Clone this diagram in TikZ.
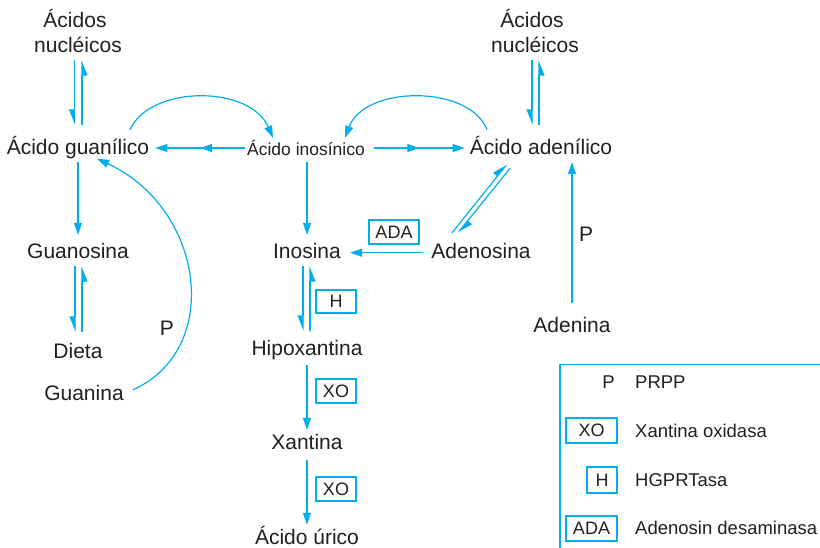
\documentclass[tikz,border=0pt]{standalone}
\usepackage{fontspec}
\setmainfont{Liberation Sans}
\usetikzlibrary{arrows.meta,decorations.markings}
\definecolor{flow}{HTML}{00AEEF}
\definecolor{ink}{HTML}{231F20}
\begin{document}
\begin{tikzpicture}[x=1pt,y=-1pt,
  lbl/.style={inner sep=0pt, anchor=base, text=ink,
    font=\fontsize{21}{25}\selectfont, text height=15pt, text depth=4.5pt},
  small/.style={lbl, font=\fontsize{17.5}{20}\selectfont, text height=12pt, text depth=3.5pt},
  legtxt/.style={lbl, font=\fontsize{18.5}{21}\selectfont, anchor=base west},
  enz/.style={draw=flow, line width=1.1pt, text=ink, font=\fontsize{18}{21}\selectfont,
    inner sep=0pt, minimum height=24pt},
  con/.style={flow, line width=1.2pt},
  arr/.style={con, -{Triangle[length=12pt,width=8pt]}},
  harpout/.style={con, -{Triangle[length=14pt,width=11pt,harpoon,swap]}},
  harpin/.style={con, -{Triangle[length=14pt,width=11pt,harpoon]}},
  twohead/.style={arr, postaction={decorate},
    decoration={markings, mark=at position 0.5 with {\arrow{Triangle[length=12pt,width=8pt]}}}}
]
\useasboundingbox (0,0) rectangle (820,547);
\fill[white] (0,0) rectangle (820,547);

% metabolites
\node[lbl] (nucLa) at (75,27) {Ácidos};
\node[lbl] (nucL) at (78,52) {nucléicos};
\node[lbl] (gua) at (78,154) {Ácido guanílico};
\node[small] (ino) at (306,155) {Ácido inosínico};
\node[lbl] (adn) at (541,154) {Ácido adenílico};
\node[lbl] (nucRa) at (532,27) {Ácidos};
\node[lbl] (nucR) at (535,52) {nucléicos};
\node[lbl] (gsn) at (78,258) {Guanosina};
\node[lbl] (dieta) at (78,358) {Dieta};
\node[lbl] (gnn) at (84,400) {Guanina};
\node[lbl] (pG) at (167,335) {P};
\node[lbl] (inos) at (307,258) {Inosina};
\node[lbl] (hip) at (307,355) {Hipoxantina};
\node[lbl] (xan) at (307,449) {Xantina};
\node[lbl] (uri) at (307,544) {Ácido úrico};
\node[lbl] (ados) at (481,258) {Adenosina};
\node[lbl] (aden) at (572,332) {Adenina};
\node[lbl] (pA) at (586,241) {P};

% enzymes on the arrows
\node[enz, minimum width=50pt] (ada) at (394,232) {ADA};
\node[enz, minimum width=40pt, minimum height=23pt] (hg) at (336,301.5) {H};
\node[enz, minimum width=40pt] (xo1) at (336,391) {XO};
\node[enz, minimum width=40pt] (xo2) at (336,489) {XO};

% guanine side
\draw[harpout] ([shift={(-3.5pt,-3.5pt)}]nucL.south) -- ([shift={(-3.5pt,14pt)}]gua.north);
\draw[harpout] ([shift={(4pt,14pt)}]gua.north) -- ([shift={(4pt,-3.5pt)}]nucL.south);
\draw[arr] ([yshift=-3.5pt]gua.south) -- ([yshift=8pt]gsn.north);
\draw[harpout] ([shift={(-3pt,-3.5pt)}]gsn.south) -- ([shift={(-3pt,11pt)}]dieta.north);
\draw[harpout] ([shift={(4pt,11pt)}]dieta.north) -- ([shift={(4pt,-3.5pt)}]gsn.south);
\draw[arr] ([shift={(9pt,-5pt)}]gnn.north east) .. controls +(90,-40) and +(108,50) .. ([xshift=19pt]gua.south);

% inosinic acid
\draw[twohead] ([shift={(-2pt,2.75pt)}]ino.west) -- ([shift={(6pt,0.75pt)}]gua.east);
\draw[twohead] ([shift={(9pt,2.75pt)}]ino.east) -- ([shift={(-5pt,0.75pt)}]adn.west);
\draw[arr] ([shift={(52pt,9pt)}]gua.north) .. controls +(20,-45) and +(-23,-53) .. ([shift={(-33pt,5pt)}]ino.north);
\draw[arr] ([shift={(-54pt,9pt)}]adn.north) .. controls +(-17,-45) and +(20,-53) .. ([shift={(39pt,5pt)}]ino.north);
\draw[arr] ([shift={(1pt,-3.5pt)}]ino.south) -- ([yshift=8pt]inos.north);

% adenine side
\draw[harpout] ([shift={(-3pt,-3.5pt)}]nucR.south) -- ([shift={(-9pt,14pt)}]adn.north);
\draw[harpout] ([shift={(-2pt,14pt)}]adn.north) -- ([shift={(4pt,-3.5pt)}]nucR.south);
\draw[harpin] ([shift={(-29pt,10pt)}]ados.north) -- ([shift={(-34pt,-5.5pt)}]adn.south);
\draw[harpin] ([shift={(-31pt,-9.5pt)}]adn.south) -- ([shift={(-23pt,10pt)}]ados.north);
\draw[arr] ([xshift=-8.4pt]ados.west) -- ([xshift=9pt]inos.east);
\draw[arr] ([yshift=14pt]aden.north) -- ([shift={(31pt,-3.5pt)}]adn.south);

% degradation to uric acid
\draw[harpout] ([shift={(-4pt,-3.5pt)}]inos.south) -- ([shift={(-4pt,9pt)}]hip.north);
\draw[harpout] ([shift={(3pt,9pt)}]hip.north) -- ([shift={(3pt,-3.5pt)}]inos.south);
\draw[arr] ([yshift=-5.5pt]hip.south) -- ([yshift=4pt]xan.north);
\draw[arr] ([yshift=-6.5pt]xan.south) -- ([yshift=4pt]uri.north);

% key
\draw[con, line width=1.5pt] (560,548) -- (560,364.5) -- (821,364.5);
\node[lbl, font=\fontsize{18.5}{21}\selectfont, anchor=base east] (kp) at (615,388) {P};
\node[legtxt] (kpt) at (635,388) {PRPP};
\node[enz, minimum width=51pt, minimum height=25pt] (kxo) at (591.5,430.5) {XO};
\node[legtxt] (kxot) at (635,437) {Xantina oxidasa};
\node[enz, minimum width=30pt, minimum height=26pt] (kh) at (602,480) {H};
\node[legtxt] (kht) at (635,486) {HGPRTasa};
\node[enz, minimum width=51pt, minimum height=25pt] (kada) at (591.5,528.5) {ADA};
\node[legtxt] (kadat) at (635,534) {Adenosin desaminasa};
\end{tikzpicture}
\end{document}
